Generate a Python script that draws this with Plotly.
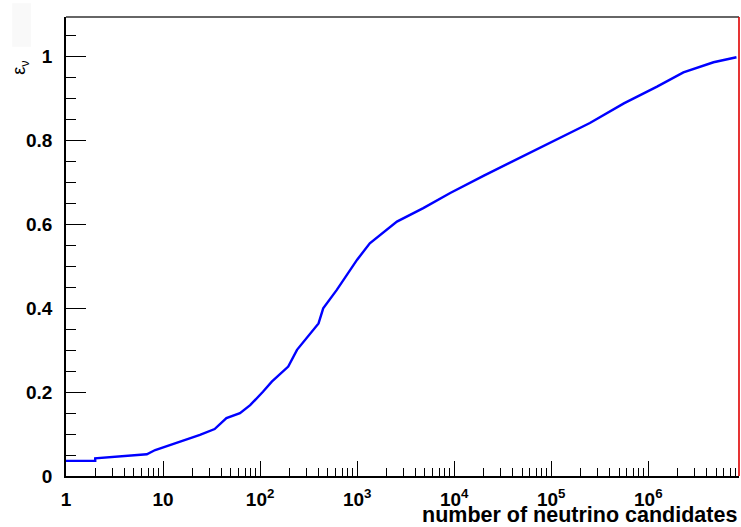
import numpy as np
import plotly.graph_objects as go

# cumulative efficiency vs number of neutrino candidates
n_cand = [1, 2, 2, 2.8, 4.2, 6.8, 8.3, 10, 15, 24, 34, 45, 62, 79, 107, 132, 195,
          240, 400, 447, 617, 1000, 1350, 2570, 4800, 9100, 2e4, 5.1e4, 1.15e5,
          2.5e5, 5.6e5, 1.23e6, 2.3e6, 4.7e6, 8.1e6]
eff = [0.036, 0.036, 0.042, 0.045, 0.048, 0.052, 0.062, 0.068, 0.082, 0.098, 0.112,
       0.138, 0.150, 0.169, 0.201, 0.225, 0.261, 0.301, 0.364, 0.400, 0.444, 0.516,
       0.555, 0.607, 0.639, 0.675, 0.716, 0.762, 0.802, 0.842, 0.889, 0.929, 0.963,
       0.987, 0.999]

x_major = [1, 10, 100, 1e3, 1e4, 1e5, 1e6]
x_labels = ["1", "10", "10<sup>2</sup>", "10<sup>3</sup>", "10<sup>4</sup>",
            "10<sup>5</sup>", "10<sup>6</sup>"]
y_major = [0, 0.2, 0.4, 0.6, 0.8, 1.0]
y_labels = ["0", "0.2", "0.4", "0.6", "0.8", "1"]

x_minor = [m * 10**d for d in range(0, 7) for m in range(2, 10) if m * 10**d < 8.6e6]
y_minor = [round(v, 2) for v in np.arange(0, 1.1, 0.05)]

fig = go.Figure(go.Scatter(
    x=n_cand, y=eff, mode="lines",
    line=dict(color="#0000ff", width=2.4),
    showlegend=False,
))

tick_font = dict(family="Liberation Sans, Arial", size=19, color="black", weight="bold")

fig.update_xaxes(
    type="log", range=[0, np.log10(8.6e6)],
    tickmode="array", tickvals=x_major, ticktext=x_labels,
    ticks="inside", ticklen=15, tickwidth=1.3, tickcolor="black",
    minor=dict(tickmode="array", tickvals=x_minor, ticks="inside", ticklen=8,
               tickwidth=1.3, tickcolor="black", showgrid=False),
    showline=True, linecolor="black", linewidth=1.6,
    showgrid=False, zeroline=False,
    tickfont=tick_font, ticklabelstandoff=5,
)
fig.update_yaxes(
    range=[0, 1.095],
    tickmode="array", tickvals=y_major, ticktext=y_labels,
    ticks="inside", ticklen=20, tickwidth=1.3, tickcolor="black",
    minor=dict(tickmode="array", tickvals=y_minor, ticks="inside", ticklen=10,
               tickwidth=1.3, tickcolor="black", showgrid=False),
    showline=True, linecolor="black", linewidth=1.6,
    showgrid=False, zeroline=False,
    tickfont=tick_font, ticklabelstandoff=8,
)

# top frame and red right edge
fig.add_shape(type="line", xref="paper", yref="paper", x0=0, x1=1, y0=1, y1=1,
              line=dict(color="#333333", width=1.5))
fig.add_shape(type="line", xref="paper", yref="paper", x0=1, x1=1, y0=0, y1=1,
              line=dict(color="#e00000", width=1.6))
# faint smudge in the top-left corner
fig.add_shape(type="rect", xref="paper", yref="paper",
              x0=-0.08, x1=-0.052, y0=0.935, y1=1.03,
              fillcolor="#f9f9f9", line=dict(width=0), layer="below")

fig.add_annotation(
    text="<b>number of neutrino candidates</b>", xref="paper", yref="paper",
    x=1.0, y=-0.084, xanchor="right", yanchor="middle", showarrow=False,
    font=dict(family="Liberation Sans, Arial", size=21.5, color="black"),
)
fig.add_annotation(
    text="ε<sub>ν</sub>", xref="paper", yref="paper",
    x=-0.068, y=0.89, xanchor="center", yanchor="middle", showarrow=False,
    textangle=-90, font=dict(family="Liberation Sans, Arial", size=18, color="black"),
)

fig.update_layout(
    width=741, height=527,
    margin=dict(l=66, r=2, t=17, b=51),
    paper_bgcolor="white", plot_bgcolor="white",
)

fig.write_html("out.html", config={"displayModeBar": False},
               post_script="document.body.style.margin='0';")
